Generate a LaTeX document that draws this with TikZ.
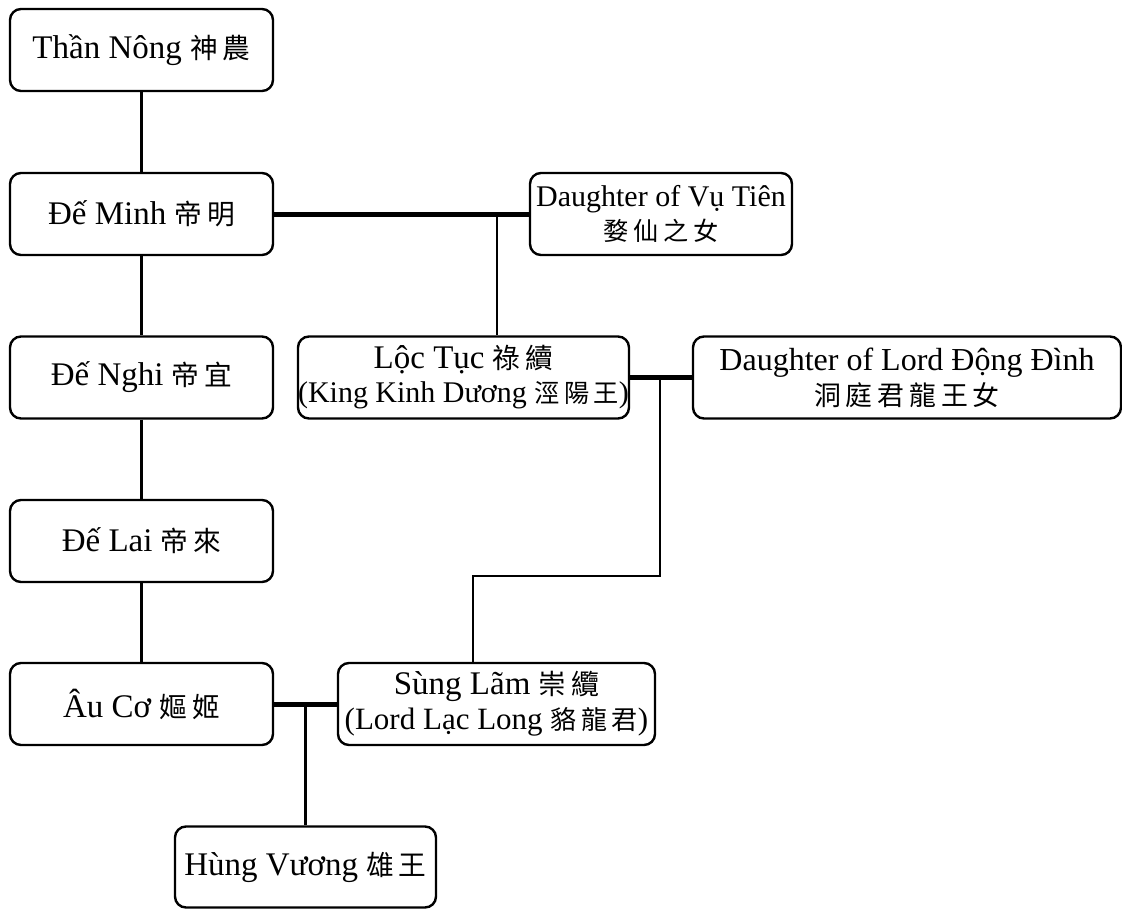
\documentclass[tikz,border=0pt]{standalone}
\usepackage{fontspec}
\setmainfont{Liberation Serif}
\newfontfamily\cjk[Scale=0.84,LetterSpace=18]{Noto Sans CJK TC}
\newcommand{\zh}[1]{{\cjk #1}}
\newcommand{\firstline}[1]{{\fontsize{33}{35}\selectfont #1}}
\tikzset{
  box/.style={draw, line width=2.4pt, rounded corners=11pt, inner sep=0pt, align=center,
    font=\fontsize{33}{38}\selectfont},
  box2/.style={box, font=\fontsize{30}{34}\selectfont},
  link/.style={line width=2.2pt},
  wed/.style={line width=5pt},
}
\begin{document}
\begin{tikzpicture}[x=1pt,y=-1pt]
\useasboundingbox (0,0) rectangle (1122,911);
% left column
\node[box, minimum width=263pt, minimum height=82pt] (tn) at (141.5,50) {Thần Nông \zh{神農}};
\node[box, minimum width=263pt, minimum height=82pt] (dm) at (141.5,214) {Đế Minh \zh{帝明}};
\node[box, minimum width=263pt, minimum height=82pt] (dn) at (141.5,377.5) {Đế Nghi \zh{帝宜}};
\node[box, minimum width=263pt, minimum height=82pt] (dl) at (141.5,541) {Đế Lai \zh{帝來}};
\node[box, minimum width=263pt, minimum height=82pt] (ac) at (141.5,704) {Âu Cơ \zh{嫗姬}};
% others
\node[box2, minimum width=262pt, minimum height=82pt] (vt) at (661,214) {Daughter of Vụ Tiên\\\zh{婺仙之女}};
\node[box2, minimum width=331pt, minimum height=82pt] (lt) at (463.5,377.5) {\firstline{Lộc Tục \zh{祿續}}\\(King Kinh Dương \zh{涇陽王})};
\node[box2, minimum width=428pt, minimum height=82pt, font=\fontsize{32}{35}\selectfont] (dd) at (907,377.5) {Daughter of Lord Động Đình\\\zh{洞庭君龍王女}};
\node[box2, minimum width=317pt, minimum height=82pt, font=\fontsize{31}{35}\selectfont] (sl) at (496.5,704) {\firstline{Sùng Lãm \zh{崇纜}}\\(Lord Lạc Long \zh{貉龍君})};
\node[box, minimum width=261pt, minimum height=81pt] (hv) at (305.5,867) {Hùng Vương \zh{雄王}};
% descent lines
\draw[link] (tn.south) -- (dm.north);
\draw[link] (dm.south) -- (dn.north);
\draw[link] (dn.south) -- (dl.north);
\draw[link] (dl.south) -- (ac.north);
% marriages
\draw[wed] (dm.east) -- (vt.west);
\coordinate (m1) at (497,214);
\draw[link] (m1) -- (m1 |- lt.north);
\draw[wed] (lt.east) -- (dd.west);
\coordinate (m2) at (660,377.5);
\coordinate (c2) at (473,576);
\draw[link] (m2) |- (c2) -- (c2 |- sl.north);
\draw[wed] (ac.east) -- (sl.west);
\coordinate (m3) at (305.5,704);
\draw[link] (m3) -- (hv.north);
\end{tikzpicture}
\end{document}
